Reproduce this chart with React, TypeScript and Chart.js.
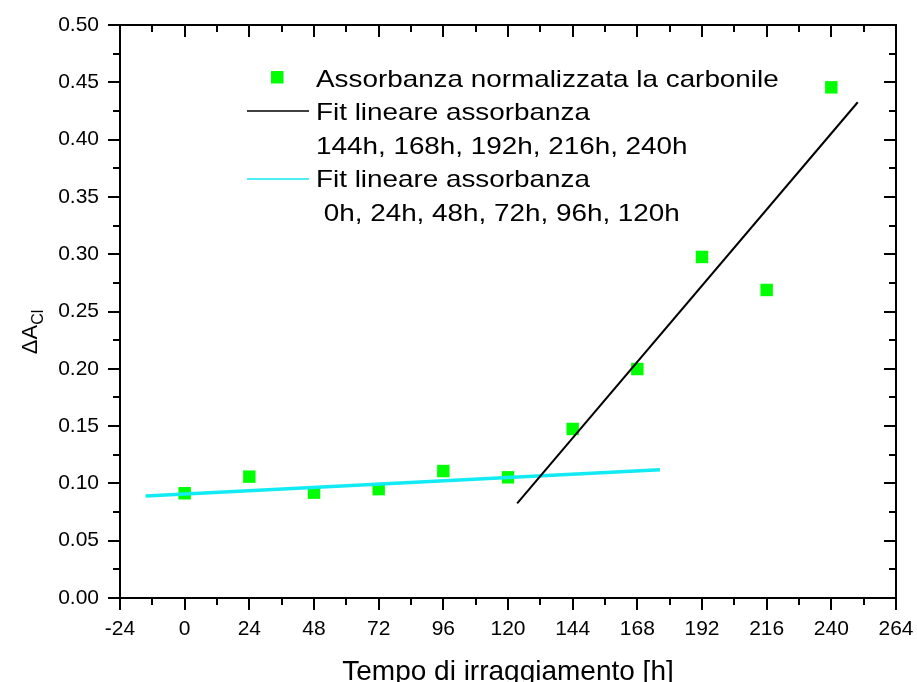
import React, { useEffect, useRef } from 'react';
import { Chart, registerables } from 'chart.js';

Chart.register(...registerables);

// Irradiation time (h) and normalised carbonyl absorbance
const hours = [0, 24, 48, 72, 96, 120, 144, 168, 192, 216, 240];
const absorbance = [0.0914, 0.1059, 0.0919, 0.095, 0.1108, 0.1053, 0.1475, 0.1998, 0.2976, 0.2688, 0.4456];

// Linear fit over 144h–240h (endpoints of the drawn segment)
const lateFitX = [123.4, 249.8];
const lateFitY = [0.0826, 0.4326];

// Linear fit over 0h–120h
const earlyFitX = [-14.5, 176.4];
const earlyFitY = [0.089, 0.112];

const xMin = -24;
const xMax = 264;
const xStep = 24;
const yMin = 0;
const yMax = 0.5;
const yStep = 0.05;

const legendLines = [
  'Assorbanza normalizzata la carbonile',
  'Fit lineare assorbanza',
  '144h, 168h, 192h, 216h, 240h',
  'Fit lineare assorbanza',
  ' 0h, 24h, 48h, 72h, 96h, 120h',
];

const xTitle = 'Tempo di irraggiamento [h]';
const yTitleMain = '\u0394A';
const yTitleSub = 'Cl';

const FONT = '"Liberation Sans", Arial, Helvetica, sans-serif';
const GREEN = '#00ff00';
const CYAN = '#12eaf4';

const toPoints = (xs: number[], ys: number[]) => xs.map((x, i) => ({ x, y: ys[i] }));

const clearScalePadding = (s: any) => {
  s.paddingLeft = 0;
  s.paddingRight = 0;
  s.paddingTop = 0;
  s.paddingBottom = 0;
};

// Frame with inward/outward major and minor ticks, axis titles and legend box
const decorPlugin = {
  id: 'decor',
  afterDatasetsDraw(chart: any) {
    const { ctx, chartArea } = chart;
    const xs = chart.scales.x;
    const ys = chart.scales.y;
    const { left, right, top, bottom } = chartArea;
    ctx.save();
    ctx.strokeStyle = '#000';
    ctx.lineWidth = 2;
    ctx.lineCap = 'butt';
    ctx.beginPath();
    ctx.rect(left, top, right - left, bottom - top);
    ctx.stroke();

    const majorLen = 12;
    const minorLen = 7;
    ctx.lineWidth = 2;
    ctx.beginPath();
    for (let v = xMin; v <= xMax + 1e-9; v += xStep / 2) {
      const isMajor = Math.abs(((v - xMin) / xStep) - Math.round((v - xMin) / xStep)) < 1e-6;
      const len = isMajor ? majorLen : minorLen;
      const px = Math.round(xs.getPixelForValue(v));
      // bottom: outward
      ctx.moveTo(px, bottom);
      ctx.lineTo(px, bottom + len);
      // top: inward
      ctx.moveTo(px, top);
      ctx.lineTo(px, top + len);
    }
    for (let i = 0; i <= Math.round((yMax - yMin) / (yStep / 2)); i++) {
      const v = yMin + i * (yStep / 2);
      const len = i % 2 === 0 ? majorLen : minorLen;
      const py = Math.round(ys.getPixelForValue(v));
      // left: outward
      ctx.moveTo(left, py);
      ctx.lineTo(left - len, py);
      // right: inward
      ctx.moveTo(right, py);
      ctx.lineTo(right - len, py);
    }
    ctx.stroke();

    // x-axis title
    ctx.fillStyle = '#000';
    ctx.font = `28px ${FONT}`;
    ctx.textAlign = 'center';
    ctx.textBaseline = 'alphabetic';
    ctx.fillText(xTitle, (left + right) / 2, 680);

    // y-axis title, rotated, with subscript
    ctx.save();
    const mainFont = `22px ${FONT}`;
    const subFont = `16px ${FONT}`;
    ctx.font = mainFont;
    const wMain = ctx.measureText(yTitleMain).width;
    ctx.font = subFont;
    const wSub = ctx.measureText(yTitleSub).width;
    const total = wMain + wSub;
    ctx.translate(37, 332);
    ctx.rotate(-Math.PI / 2);
    ctx.textAlign = 'left';
    ctx.font = mainFont;
    ctx.fillText(yTitleMain, -total / 2, 0);
    ctx.font = subFont;
    ctx.fillText(yTitleSub, -total / 2 + wMain, 6);
    ctx.restore();

    // legend
    const rowY = [78, 111.5, 145, 178.5, 212];
    const textX = 316;
    const sx = 1.16;
    ctx.font = `24px ${FONT}`;
    ctx.textAlign = 'left';
    ctx.textBaseline = 'alphabetic';
    legendLines.forEach((t, i) => {
      ctx.save();
      ctx.translate(textX, rowY[i] + 8.6);
      ctx.scale(sx, 1);
      ctx.fillText(t, 0, 0);
      ctx.restore();
    });
    ctx.fillStyle = GREEN;
    ctx.fillRect(271, 71, 12.5, 12.5);
    ctx.lineWidth = 1.5;
    ctx.strokeStyle = '#000';
    ctx.beginPath();
    ctx.moveTo(247, 111);
    ctx.lineTo(309, 111);
    ctx.stroke();
    ctx.strokeStyle = CYAN;
    ctx.beginPath();
    ctx.moveTo(247, 179);
    ctx.lineTo(309, 179);
    ctx.stroke();
    ctx.restore();
  },
};

export default function App() {
  const canvasRef = useRef<HTMLCanvasElement | null>(null);

  useEffect(() => {
    const canvas = canvasRef.current;
    if (!canvas) return;
    const chart = new Chart(canvas, {
      type: 'scatter',
      data: {
        datasets: [
          {
            label: 'Fit lineare assorbanza 144h-240h',
            data: toPoints(lateFitX, lateFitY),
            showLine: true,
            borderColor: '#000',
            borderWidth: 2,
            pointRadius: 0,
            fill: false,
          },
          {
            label: 'Fit lineare assorbanza 0h-120h',
            data: toPoints(earlyFitX, earlyFitY),
            showLine: true,
            borderColor: CYAN,
            borderWidth: 3.5,
            pointRadius: 0,
            fill: false,
          },
          {
            label: 'Assorbanza normalizzata la carbonile',
            data: toPoints(hours, absorbance),
            showLine: false,
            pointStyle: 'rect',
            pointRadius: 8.8,
            backgroundColor: GREEN,
            borderColor: GREEN,
            borderWidth: 0,
          },
        ],
      },
      options: {
        animation: false,
        responsive: false,
        maintainAspectRatio: false,
        layout: { padding: { left: 0, right: 21, top: 25, bottom: 0 } },
        plugins: {
          legend: { display: false },
          tooltip: { enabled: false },
        },
        scales: {
          x: {
            type: 'linear',
            min: xMin,
            max: xMax,
            afterFit: (s: any) => {
              s.height = 84;
              clearScalePadding(s);
            },
            grid: { display: false, drawTicks: false },
            border: { display: false },
            ticks: {
              stepSize: xStep,
              padding: 19,
              autoSkip: false,
              maxRotation: 0,
              color: '#000',
              font: { family: FONT, size: 21 },
            },
          },
          y: {
            type: 'linear',
            min: yMin,
            max: yMax,
            afterFit: (s: any) => {
              s.width = 120;
              clearScalePadding(s);
            },
            grid: { display: false, drawTicks: false },
            border: { display: false },
            ticks: {
              stepSize: yStep,
              padding: 21,
              autoSkip: false,
              color: '#000',
              font: { family: FONT, size: 21 },
              callback: (v: any) => Number(v).toFixed(2),
            },
          },
        },
      },
      plugins: [decorPlugin],
    });
    return () => chart.destroy();
  }, []);

  return (
    <div style={{ position: 'fixed', left: 0, top: 0, width: 917, height: 682, background: '#fff' }}>
      <canvas ref={canvasRef} width={917} height={682} style={{ display: 'block', width: 917, height: 682 }} />
    </div>
  );
}
